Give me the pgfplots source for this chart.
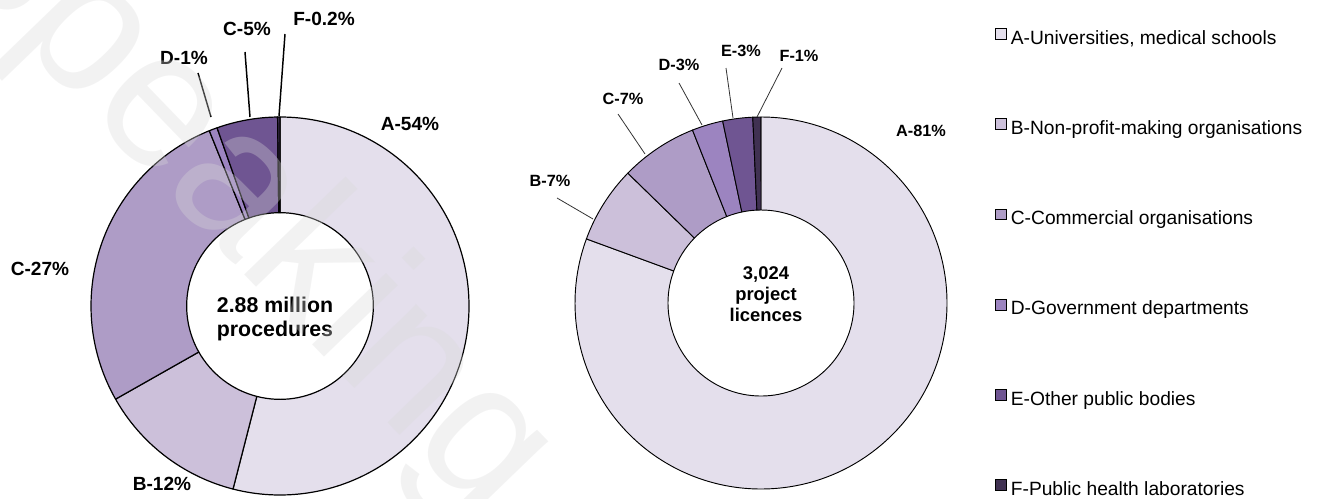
\documentclass[border=0pt]{standalone}
\usepackage{pgfplots}
\pgfplotsset{compat=1.18}
\usepackage{pgfplotstable}
\usepackage{fontspec}
\setmainfont{Liberation Sans}

\definecolor{colA}{HTML}{E4DFEC}
\definecolor{colB}{HTML}{CCC0DA}
\definecolor{colC}{HTML}{AE9CC6}
\definecolor{colD}{HTML}{9C84C0}
\definecolor{colE}{HTML}{6F5592}
\definecolor{colF}{HTML}{403152}

% share of procedures (read off the left ring, %)
\pgfplotstableread{
key value color
A 54.0 colA
B 12.8 colB
C 27.1 colC
D 0.7 colD
E 5.2 colE
F 0.2 colF
}\procs
% share of project licences (read off the right ring, %)
\pgfplotstableread{
key value color
A 80.6 colA
B 6.7 colB
C 6.7 colC
D 2.7 colD
E 2.6 colE
F 0.7 colF
}\licences

\gdef\ringcmds{}
% #1 table, #2 cx, #3 cy (axis units), #4 outer radius, #5 inner radius, #6 line width
\newcommand\buildring[6]{%
  \def\rtotal{0}%
  \pgfplotstablegetrowsof{#1}\pgfmathtruncatemacro\rlast{\pgfplotsretval-1}%
  \pgfplotsforeachungrouped \ri in {0,...,\rlast}{%
    \pgfplotstablegetelem{\ri}{value}\of{#1}%
    \pgfmathsetmacro\rtotal{\rtotal+\pgfplotsretval}}%
  \def\rcum{90}%
  \pgfplotsforeachungrouped \ri in {0,...,\rlast}{%
    \pgfplotstablegetelem{\ri}{value}\of{#1}\let\rval\pgfplotsretval
    \pgfplotstablegetelem{\ri}{color}\of{#1}\let\rcol\pgfplotsretval
    \pgfmathsetmacro\ra{\rcum}%
    \pgfmathsetmacro\rb{\rcum-\rval/\rtotal*360}%
    \xdef\ringcmds{\unexpanded\expandafter{\ringcmds}\noexpand\filldraw[fill=\rcol,draw=black,line width=#6,line join=round]
      ([shift={(\ra:#4)}]axis cs:#2,#3) arc[start angle=\ra,end angle=\rb,radius=#4]
      -- ([shift={(\rb:#5)}]axis cs:#2,#3) arc[start angle=\rb,end angle=\ra,radius=#5] -- cycle;}%
    \let\rcum\rb
  }%
}

\buildring{\procs}{280}{306}{141.75pt}{70pt}{0.9pt}
\buildring{\licences}{761}{303}{139.5pt}{69.75pt}{0.7pt}

\begin{document}
\begin{tikzpicture}
\begin{axis}[
  at={(0,0)}, anchor=south west,
  width=989.25pt, height=374.25pt, scale only axis,
  xmin=0, xmax=1319, ymin=0, ymax=499, y dir=reverse,
  hide axis, clip=false,
  legend style={draw=none, fill=none, inner sep=0pt,
    at={(axis cs:995,28)}, anchor=north west,
    font=\fontsize{14.4pt}{17pt}\selectfont,
    row sep=52.6pt,
    nodes={inner sep=0pt, text height=11pt, text depth=3pt}},
  legend cell align=left,
  /tikz/every odd column/.append style={column sep=3pt},
  legend image code/.code={\draw[#1,line width=0.7pt] (0pt,-0.3pt) rectangle (8pt,7.7pt);},
]
\addlegendimage{fill=colA, draw=black}
\addlegendentry{A-Universities, medical schools}
\addlegendimage{fill=colB, draw=black}
\addlegendentry{B-Non-profit-making organisations}
\addlegendimage{fill=colC, draw=black}
\addlegendentry{C-Commercial organisations}
\addlegendimage{fill=colD, draw=black}
\addlegendentry{D-Government departments}
\addlegendimage{fill=colE, draw=black}
\addlegendentry{E-Other public bodies}
\addlegendimage{fill=colF, draw=black}
\addlegendentry{F-Public health laboratories}

\ringcmds

% leader lines, left ring
\draw[line width=1.1pt] (axis cs:198,73) -- (axis cs:211,117);
\draw[line width=1.1pt] (axis cs:245,52) -- (axis cs:250,117);
\draw[line width=1.1pt] (axis cs:285,34) -- (axis cs:279,116);
% leader lines, right ring
\draw[line width=0.6pt, black!80] (axis cs:557,198) -- (axis cs:593,219);
\draw[line width=0.6pt, black!80] (axis cs:618,114) -- (axis cs:645,154);
\draw[line width=0.6pt, black!80] (axis cs:679,83) -- (axis cs:702,125);
\draw[line width=0.6pt, black!80] (axis cs:726,68) -- (axis cs:733,118);
\draw[line width=0.6pt, black!80] (axis cs:782,68) -- (axis cs:757,117);

% labels, left ring
\begin{scope}[every node/.style={font=\fontsize{14.3pt}{16pt}\selectfont\bfseries, inner sep=0pt}]
\node at (axis cs:410,124) {A-54\%};
\node at (axis cs:162,484) {B-12\%};
\node at (axis cs:40,269) {C-27\%};
\node at (axis cs:184,58) {D-1\%};
\node at (axis cs:247,29) {C-5\%};
\node at (axis cs:324,19) {F-0.2\%};
\end{scope}
\node[font=\fontsize{16pt}{17.3pt}\selectfont\bfseries, align=center, inner sep=0pt]
  at (axis cs:275,319) {2.88 million\\procedures};
% labels, right ring
\begin{scope}[every node/.style={font=\fontsize{12.2pt}{14pt}\selectfont\bfseries, inner sep=0pt}]
\node at (axis cs:921,131) {A-81\%};
\node at (axis cs:550,181) {B-7\%};
\node at (axis cs:623,99) {C-7\%};
\node at (axis cs:679,65) {D-3\%};
\node at (axis cs:741,51) {E-3\%};
\node at (axis cs:799,56) {F-1\%};
\end{scope}
\node[font=\fontsize{13.8pt}{16pt}\selectfont\bfseries, align=center, inner sep=0pt]
  at (axis cs:766,294) {3,024\\project\\licences};

% watermark
\begin{scope}
\clip (axis cs:0,0) rectangle (axis cs:1319,499);
\node[rotate=-46, anchor=base west, inner sep=0pt, text=black!15, opacity=0.33,
  font=\fontsize{146pt}{146pt}\selectfont] at (axis cs:-80,-62) {Speaking};
\end{scope}
\end{axis}
\pgfresetboundingbox
\useasboundingbox (0,0) rectangle (989.25pt,374.25pt);
\end{tikzpicture}
\end{document}
